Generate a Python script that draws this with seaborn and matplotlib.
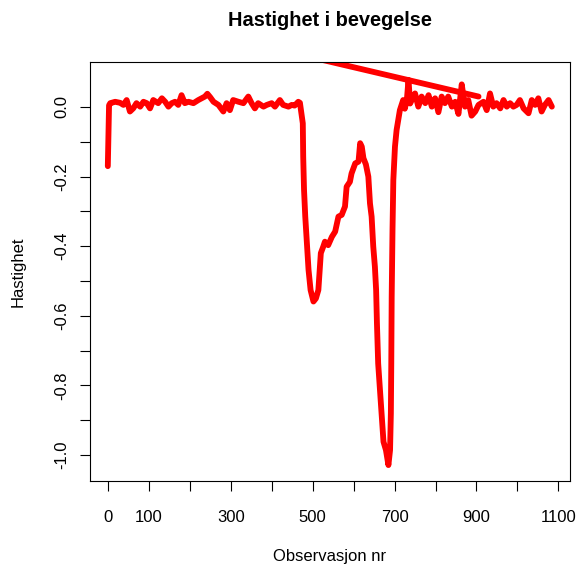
import matplotlib
matplotlib.use("Agg")
import matplotlib.pyplot as plt
import seaborn as sns
import pandas as pd

# ---- data ----
obs = [0, 3, 6, 18, 30, 38, 46, 54, 62, 70, 79, 87, 95, 103, 111, 123, 132, 140,
       148, 156, 164, 172, 180, 188, 197, 209, 221, 229, 237, 243, 250, 258, 270,
       282, 290, 298, 306, 319, 331, 343, 351, 359, 367, 380, 388, 400, 408, 420,
       428, 441, 449, 456, 465, 469, 476, 477, 479, 482, 486, 490, 495, 502, 508,
       514, 520, 526, 530, 538, 547, 555, 563, 571, 579, 583, 591, 595, 604, 612,
       616, 620, 624, 630, 636, 640, 644, 648, 652, 655, 657, 660, 665, 669, 673,
       679, 685, 689, 691, 692, 693, 695, 697, 701, 705, 713, 721, 725, 730, 734,
       738, 742, 750, 758, 766, 775, 783, 791, 799, 807, 815, 823, 831, 840, 848,
       856, 864, 872, 880, 888, 897, 905, 917, 925, 933, 941, 949, 958, 966, 974,
       982, 990, 998, 1006, 1015, 1027, 1035, 1043, 1051, 1059, 1067, 1076, 1084]
hastighet = [-0.170, 0.005, 0.011, 0.015, 0.012, 0.006, 0.020, -0.013, -0.004,
             0.011, 0.001, 0.015, 0.011, -0.004, 0.020, 0.011, 0.025, 0.015,
             0.001, 0.011, 0.015, 0.006, 0.034, 0.011, 0.015, 0.011, 0.020, 0.025,
             0.030, 0.038, 0.028, 0.015, 0.006, -0.013, 0.011, -0.009, 0.020,
             0.015, 0.011, 0.030, 0.011, -0.004, 0.011, 0.001, 0.006, 0.011, 0.001,
             0.020, 0.006, 0.001, 0.006, 0.004, 0.015, 0.012, -0.047, -0.143,
             -0.238, -0.315, -0.392, -0.468, -0.526, -0.559, -0.550, -0.526,
             -0.420, -0.401, -0.387, -0.397, -0.373, -0.358, -0.315, -0.310,
             -0.286, -0.229, -0.215, -0.191, -0.162, -0.157, -0.104, -0.114,
             -0.147, -0.165, -0.200, -0.277, -0.315, -0.401, -0.459, -0.526,
             -0.622, -0.737, -0.823, -0.890, -0.962, -0.986, -1.029, -0.986,
             -0.880, -0.737, -0.545, -0.353, -0.210, -0.114, -0.066, -0.009,
             0.020, -0.005, 0.020, 0.078, 0.010, 0.020, 0.039, 0.001, 0.030,
             0.011, 0.034, 0.001, 0.025, -0.015, 0.030, 0.011, 0.030, 0.001,
             0.015, -0.020, 0.065, 0.001, 0.020, -0.025, -0.013, 0.006, 0.015,
             -0.009, 0.039, 0.001, 0.011, -0.004, 0.020, 0.001, 0.011, 0.001,
             0.006, 0.020, -0.004, -0.018, 0.020, 0.006, 0.025, -0.013, 0.006,
             0.020, 0.001]
trend_obs = [0, 905]
trend_hastighet = [0.28, 0.03]

x_ticks = [0, 100, 200, 300, 400, 500, 600, 700, 800, 900, 1000, 1100]
x_ticklabels = ["0", "100", "", "300", "", "500", "", "700", "", "900", "", "1100"]
y_ticks = [-1.0, -0.9, -0.8, -0.7, -0.6, -0.5, -0.4, -0.3, -0.2, -0.1, 0.0]
y_ticklabels = ["-1.0", "", "-0.8", "", "-0.6", "", "-0.4", "", "-0.2", "", "0.0"]

df = pd.DataFrame({"obs": obs, "hastighet": hastighet})
df_trend = pd.DataFrame({"obs": trend_obs, "hastighet": trend_hastighet})

sns.set_style("white")
plt.rcParams["font.family"] = ["Liberation Sans", "DejaVu Sans"]
plt.rcParams["text.color"] = "black"
plt.rcParams["axes.labelcolor"] = "black"

fig = plt.figure(figsize=(5.81, 5.67), dpi=100)
ax = fig.add_axes([90 / 581, (567 - 481) / 567, 480 / 581, 419 / 567])

line_kw = dict(color="#FF0000", linewidth=4.2, estimator=None, sort=False,
               solid_capstyle="round", solid_joinstyle="round")
sns.lineplot(data=df, x="obs", y="hastighet", ax=ax, **line_kw)
sns.lineplot(data=df_trend, x="obs", y="hastighet", ax=ax, **line_kw)

ax.set_xlim(-43.5, 1128.3)
ax.set_ylim(-1.0747, 0.1293)

ax.set_xticks(x_ticks)
ax.set_xticklabels(x_ticklabels)
ax.set_yticks(y_ticks)
ax.set_yticklabels(y_ticklabels, rotation=90, va="center")

ax.tick_params(axis="both", direction="out", length=7, width=0.8, color="black",
               labelsize=12, labelcolor="black", bottom=True, left=True)
ax.tick_params(axis="x", pad=14)
ax.tick_params(axis="y", pad=8)

for s in ax.spines.values():
    s.set_color("black")
    s.set_linewidth(0.8)
    s.set_visible(True)

ax.set_xlabel("Observasjon nr", fontsize=12, va="center", color="black")
ax.xaxis.set_label_coords(0.5, (481 - 557) / 419)
ax.set_ylabel("Hastighet", fontsize=12, va="center", color="black")
ax.yaxis.set_label_coords((18 - 90) / 480, 0.5)
ax.set_title("Hastighet i bevegelse", fontsize=14.4, fontweight="bold",
             y=(481 - 20) / 419, va="center", pad=0, color="black")

fig.savefig("out.png", dpi=100, facecolor="white")
